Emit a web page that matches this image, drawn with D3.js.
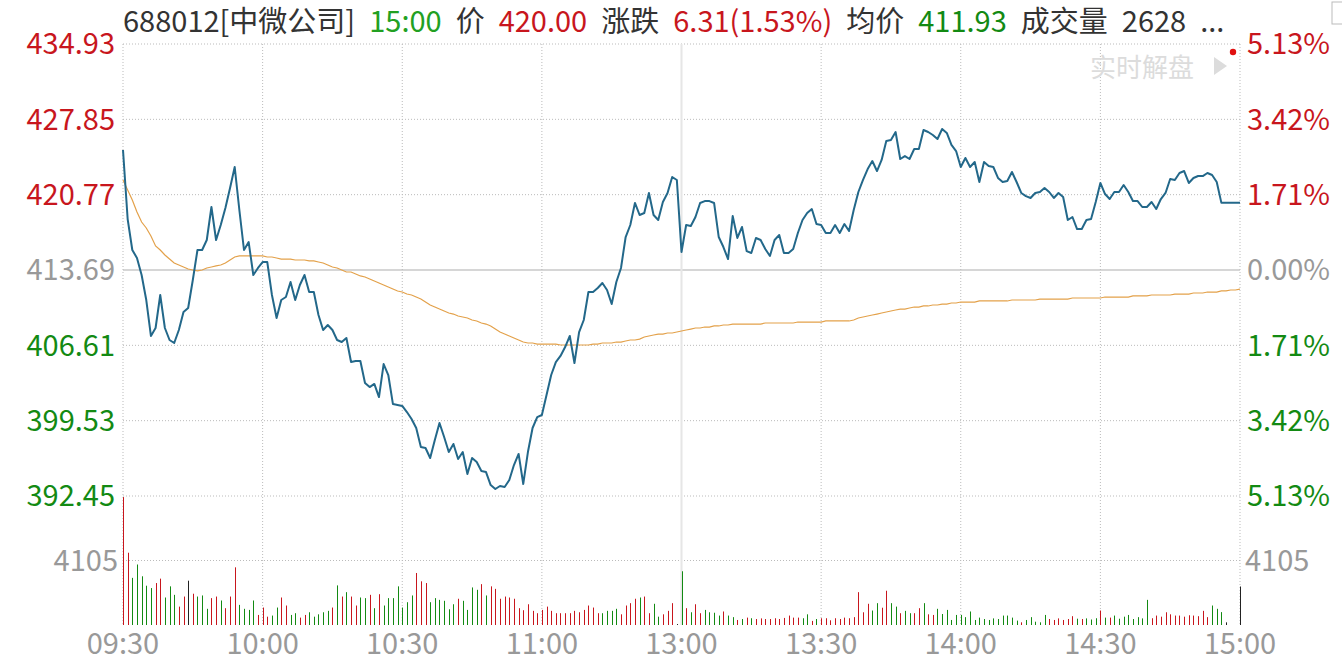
<!DOCTYPE html>
<html>
<head>
<meta charset="utf-8">
<script src="https://cdn.jsdelivr.net/npm/d3@7"></script>
<style>
  body { margin: 0; background: #fff; }
  svg { display: block; font-family: "Noto Sans CJK SC", "Noto Sans", sans-serif; }
</style>
</head>
<body>
<div id="chart"></div>
<script>
// ---- data ----
const headerParts = ["688012[中微公司]", "15:00", "价", "420.00", "涨跌", "6.31(1.53%)", "均价", "411.93", "成交量", "2628", "..."];
const preClose = 413.69;
const priceTicks = [434.93, 427.85, 420.77, 413.69, 406.61, 399.53, 392.45];
const pctTicks = ["5.13%", "3.42%", "1.71%", "0.00%", "1.71%", "3.42%", "5.13%"];
const volTicks = [4105];
const timeLabels = ["09:30", "10:00", "10:30", "11:00", "13:00", "13:30", "14:00", "14:30", "15:00"];
const timeIndex = [0, 30, 60, 90, 120, 150, 180, 210, 240];

// minute prices 09:30 .. 15:00 (241 points)
const prices = [
  424.97,418.48,415.57,414.82,413.22,410.87,407.49,408.24,411.34,408.24,
  407.11,406.83,408.05,409.74,410.12,412.75,415.57,415.57,416.51,419.61,
  416.51,417.92,419.52,421.40,423.37,419.33,415.57,416.32,413.22,413.88,
  414.44,414.44,411.34,409.18,410.87,411.15,412.56,410.87,412.28,413.22,
  411.62,411.62,409.46,408.05,408.52,408.05,407.11,406.92,407.30,405.04,
  405.14,405.14,403.07,402.69,402.98,401.75,404.85,403.82,401.09,401.00,
  400.91,400.34,399.69,398.84,397.05,396.96,396.02,397.71,399.31,397.99,
  396.58,397.34,395.93,396.58,394.52,396.02,395.64,394.80,394.70,393.48,
  393.11,393.39,393.30,393.95,395.36,396.40,393.58,396.58,398.84,399.87,
  400.06,401.94,403.82,405.04,405.61,406.45,407.49,404.95,407.86,408.99,
  411.62,411.62,412.00,412.47,411.81,410.49,412.56,413.88,416.79,417.92,
  419.99,418.86,419.05,420.93,418.86,418.39,420.08,420.93,422.43,422.15,
  415.38,417.92,417.82,418.67,419.99,420.17,420.17,419.99,416.79,415.85,
  414.72,418.76,416.70,417.73,415.47,415.29,416.70,416.51,415.66,415.01,
  416.51,416.98,415.29,415.29,415.66,417.17,418.39,419.05,419.42,418.01,
  417.92,417.17,417.17,417.92,417.17,418.01,417.35,419.33,421.02,422.15,
  423.18,423.93,422.99,424.03,425.81,425.91,426.66,424.12,424.40,424.12,
  425.06,425.06,426.85,426.66,426.38,426.00,426.94,426.57,425.44,424.87,
  423.37,424.22,423.37,423.84,421.96,423.84,423.46,423.37,422.34,421.96,
  422.05,422.90,421.96,420.93,420.64,420.46,420.93,421.02,421.40,421.02,
  420.46,420.93,420.55,418.39,418.67,417.54,417.54,418.39,418.48,420.08,
  421.87,420.83,420.36,421.02,421.02,421.68,421.02,420.17,420.17,419.61,
  419.61,420.08,419.42,420.36,420.93,422.24,422.15,422.81,422.99,421.87,
  422.34,422.52,422.52,422.81,422.62,421.96,420.00,420.00,420.00,420.00,
  420.00
];

// average price line (241 points)
const avgPrices = [
  422.15,421.21,420.27,419.14,418.20,417.64,416.89,415.95,415.57,415.10,
  414.72,414.35,414.16,413.97,413.78,413.69,413.60,413.69,413.88,413.97,
  414.07,414.16,414.35,414.63,414.91,415.01,415.01,415.01,415.01,415.01,
  415.01,414.91,414.91,414.82,414.72,414.72,414.72,414.63,414.63,414.63,
  414.54,414.54,414.44,414.35,414.16,413.97,413.88,413.69,413.50,413.50,
  413.31,413.13,413.03,412.84,412.66,412.47,412.28,412.09,411.90,411.72,
  411.62,411.43,411.34,411.15,410.96,410.68,410.40,410.21,410.02,409.84,
  409.65,409.55,409.37,409.27,409.18,408.99,408.90,408.71,408.61,408.43,
  408.14,407.86,407.67,407.49,407.30,407.11,406.92,406.83,406.83,406.73,
  406.73,406.73,406.73,406.73,406.64,406.64,406.64,406.64,406.64,406.64,
  406.64,406.73,406.73,406.83,406.83,406.83,406.92,406.92,407.02,407.11,
  407.11,407.20,407.39,407.49,407.58,407.67,407.67,407.77,407.77,407.86,
  407.96,408.05,408.14,408.24,408.24,408.33,408.33,408.43,408.43,408.52,
  408.52,408.61,408.61,408.61,408.61,408.61,408.61,408.61,408.71,408.71,
  408.71,408.71,408.71,408.71,408.71,408.80,408.80,408.80,408.80,408.80,
  408.80,408.90,408.90,408.90,408.90,408.90,408.90,408.99,409.18,409.27,
  409.37,409.46,409.55,409.65,409.74,409.84,409.93,410.02,410.02,410.12,
  410.21,410.21,410.31,410.31,410.40,410.40,410.49,410.49,410.59,410.59,
  410.68,410.68,410.68,410.68,410.78,410.78,410.78,410.78,410.78,410.78,
  410.78,410.87,410.87,410.87,410.87,410.87,410.87,410.96,410.96,410.96,
  410.96,410.96,410.96,410.96,411.06,411.06,411.06,411.06,411.06,411.06,
  411.06,411.15,411.15,411.15,411.15,411.15,411.15,411.25,411.25,411.25,
  411.25,411.34,411.34,411.34,411.34,411.34,411.43,411.43,411.43,411.43,
  411.53,411.53,411.53,411.62,411.62,411.62,411.72,411.72,411.81,411.81,
  411.90
];

// minute volumes (241 bars)
const volumes = [
  8140,4600,3000,3850,3100,2500,2350,2670,2950,1750,
  2460,1920,1170,1810,2820,1990,1810,1880,1030,1710,
  1810,1560,1070,1810,3670,1280,1030,960,1560,640,
  1110,530,600,1110,1750,1240,640,750,470,640,
  810,530,680,810,900,1110,2520,1810,2090,1810,
  1240,1750,1710,1920,1070,1960,1240,1710,1710,2460,
  1110,1450,1880,3310,2780,2670,1450,1710,1600,1540,
  1000,1320,1670,1540,960,2390,2240,2600,1880,2460,
  2300,1670,1810,1750,1670,1070,940,1320,900,750,
  960,1170,900,750,750,750,750,900,810,960,
  1240,1110,750,750,900,900,1030,680,1240,1390,
  1670,1750,1810,750,1350,530,680,900,1390,60,
  3420,1070,810,1320,750,960,810,780,600,860,
  600,500,320,380,470,430,380,420,380,380,
  430,380,450,600,470,470,430,680,260,380,
  430,430,300,430,380,470,430,500,2090,810,
  1350,920,1390,1100,2180,1390,1170,750,900,750,
  750,1070,1390,680,640,1030,700,960,320,640,
  640,500,860,320,470,380,320,420,380,600,
  600,470,280,170,320,500,210,170,640,380,
  320,420,320,380,560,400,380,420,350,430,
  920,470,470,600,400,530,640,380,500,420,
  1600,430,600,530,810,680,600,600,530,620,
  600,560,900,500,1240,1030,820,170,0,0,
  2450
];
// bar direction, ten bars per group: r up, g down, k flat
const volDir = (
  "rrgggggrrg ggrrkrgggr rgrrrggggr rrggrrggrr gggggrgrgr rggrgrgggg " +
  "gggrrrgggg ggrggggrgr rrrrrrrrrr rrrrrrrrrr rrrggggrrr rgrrggrrrk " +
  "g" +
  "rgrrggggrg grgrgrrrrr rrrrrggrgr rrrrrrrrrr ggrrggrggr rgrrgggggg " +
  "gggggggggg ggrgggggrr rrrrgrgggr grgggggggg rrrrrrrrrr rrrgggkkkk"
).replace(/ /g, "").split("");

// ---- layout ----
const width = 1342, height = 664;
const left = 123, right = 1240;
const priceTop = 44, priceBottom = 496;
const volTop = 496, volBottom = 625;

const red = "#c8161d", green = "#138a13", gray = "#999";
const headerColors = ["#333", "#22a022", "#333", red, "#333", red, "#333", green, "#333", "#333", "#333"];

const svg = d3.select("#chart").append("svg")
  .attr("width", width).attr("height", height);

const x = d3.scaleLinear().domain([0, 240]).range([left, right]);
const y = d3.scaleLinear().domain([priceTicks[6], priceTicks[0]]).range([priceBottom, priceTop]);
const yVol = d3.scaleLinear().domain([0, volTicks[0] * 2]).range([volBottom, volTop]);

const tickColor = v => v > preClose + 0.001 ? red : (v < preClose - 0.001 ? green : gray);

// grid
const grid = svg.append("g");
grid.selectAll(".hgrid")
  .data(priceTicks.filter(v => v !== preClose))
  .join("line")
    .attr("x1", left).attr("x2", right)
    .attr("y1", d => y(d)).attr("y2", d => y(d))
    .attr("stroke", "#bbb").attr("stroke-dasharray", "1,2");
grid.append("line")
  .attr("x1", left).attr("x2", right)
  .attr("y1", yVol(volTicks[0])).attr("y2", yVol(volTicks[0]))
  .attr("stroke", "#bbb").attr("stroke-dasharray", "1,2");
grid.append("line")
  .attr("x1", left).attr("x2", right)
  .attr("y1", y(preClose)).attr("y2", y(preClose))
  .attr("stroke", "#d6d6d6").attr("stroke-width", 2);
grid.selectAll(".vgrid")
  .data(timeIndex.filter(i => i !== 120))
  .join("line")
    .attr("x1", d => x(d)).attr("x2", d => x(d))
    .attr("y1", priceTop).attr("y2", volBottom)
    .attr("stroke", "#bbb").attr("stroke-dasharray", "1,2");
grid.append("line")
  .attr("x1", x(120)).attr("x2", x(120))
  .attr("y1", priceTop).attr("y2", volBottom)
  .attr("stroke", "#e6e6e6").attr("stroke-width", 2);

// volume bars
svg.append("g").selectAll("line")
  .data(volumes)
  .join("line")
    .attr("x1", (d, i) => Math.round(x(i)) + 0.5)
    .attr("x2", (d, i) => Math.round(x(i)) + 0.5)
    .attr("y1", volBottom)
    .attr("y2", d => yVol(d))
    .attr("stroke", (d, i) => volDir[i] === "r" ? red : (volDir[i] === "g" ? green : "#222"))
    .attr("stroke-width", 1);

// avg line
svg.append("path")
  .datum(avgPrices)
  .attr("fill", "none")
  .attr("stroke", "#e3a14a")
  .attr("stroke-width", 1.2)
  .attr("d", d3.line().x((d, i) => x(i)).y(d => y(d)));

// price line
svg.append("path")
  .datum(prices)
  .attr("fill", "none")
  .attr("stroke", "#23688a")
  .attr("stroke-width", 2)
  .attr("stroke-linejoin", "round")
  .attr("d", d3.line().x((d, i) => x(i)).y(d => y(d)));

// left / right price labels
const fs = 29;
svg.append("g").selectAll("text")
  .data(priceTicks)
  .join("text")
    .attr("x", 115).attr("y", d => y(d))
    .attr("dy", "0.36em")
    .attr("text-anchor", "end")
    .attr("fill", tickColor)
    .style("font-size", fs + "px")
    .text(d => d.toFixed(2));
svg.append("g").selectAll("text")
  .data(pctTicks)
  .join("text")
    .attr("x", 1247).attr("y", (d, i) => y(priceTicks[i]))
    .attr("dy", "0.36em")
    .attr("fill", (d, i) => tickColor(priceTicks[i]))
    .style("font-size", fs + "px")
    .text(d => d);

// volume labels
svg.append("text")
  .attr("x", 118).attr("y", yVol(volTicks[0])).attr("dy", "0.36em")
  .attr("text-anchor", "end").attr("fill", gray)
  .style("font-size", fs + "px").text(volTicks[0]);
svg.append("text")
  .attr("x", 1245).attr("y", yVol(volTicks[0])).attr("dy", "0.36em")
  .attr("fill", gray)
  .style("font-size", fs + "px").text(volTicks[0]);

// time labels
svg.append("g").selectAll("text")
  .data(timeLabels)
  .join("text")
    .attr("x", (d, i) => x(timeIndex[i]))
    .attr("y", 654)
    .attr("text-anchor", "middle")
    .attr("fill", gray)
    .style("font-size", fs + "px")
    .text(d => d);

// header
const header = svg.append("g");
let hx = 123;
headerParts.forEach((t, i) => {
  const node = header.append("text")
    .attr("x", hx).attr("y", 32)
    .attr("fill", headerColors[i])
    .style("font-size", fs + "px")
    .text(t);
  hx += node.node().getComputedTextLength() + 14;
});

// realtime hint and marker
svg.append("text")
  .attr("x", 1090).attr("y", 77)
  .attr("fill", "#dcdcdc")
  .style("font-size", "26px")
  .text("实时解盘");
svg.append("path")
  .attr("d", "M1214,57 L1227,66 L1214,75 Z")
  .attr("fill", "#dcdcdc");
svg.append("circle")
  .attr("cx", 1233).attr("cy", 52).attr("r", 3.2)
  .attr("fill", "#e01010");
svg.append("rect")
  .attr("x", 1332).attr("y", 2).attr("width", 14).attr("height", 22)
  .attr("fill", "none").attr("stroke", "#bbb");
</script>
</body>
</html>
